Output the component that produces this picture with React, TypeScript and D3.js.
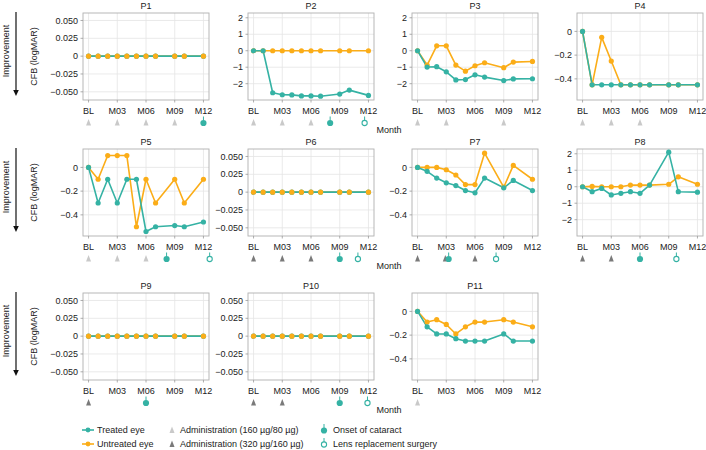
import React from 'react';
import * as d3 from 'd3';

// Visit months (BL = 0); months 8 and 11 have no visit
const months = [0, 1, 2, 3, 4, 5, 6, 7, 9, 10, 12];
const tickMonths = [0, 3, 6, 9, 12];
const tickMonthLabels = ['BL', 'M03', 'M06', 'M09', 'M12'];

const panelNames = ['P1', 'P2', 'P3', 'P4', 'P5', 'P6', 'P7', 'P8', 'P9', 'P10', 'P11'];

// CFB (logMAR), one value per visit month
const treatedP1 = [0, 0, 0, 0, 0, 0, 0, 0, 0, 0, 0];
const treatedP2 = [0, 0, -2.55, -2.67, -2.68, -2.74, -2.74, -2.76, -2.63, -2.39, -2.71];
const treatedP3 = [0, -0.99, -0.97, -1.28, -1.77, -1.75, -1.46, -1.6, -1.81, -1.71, -1.7];
const treatedP4 = [0, -0.45, -0.45, -0.45, -0.45, -0.45, -0.45, -0.45, -0.45, -0.45, -0.45];
const treatedP5 = [0, -0.3, -0.1, -0.3, -0.1, -0.1, -0.54, -0.5, -0.49, -0.5, -0.46];
const treatedP6 = [0, 0, 0, 0, 0, 0, 0, 0, 0, 0, 0];
const treatedP7 = [0, -0.033, -0.09, -0.13, -0.153, -0.195, -0.214, -0.09, -0.172, -0.11, -0.195];
const treatedP8 = [0, -0.3, -0.1, -0.5, -0.4, -0.3, -0.4, 0.1, 2.1, -0.3, -0.33];
const treatedP9 = [0, 0, 0, 0, 0, 0, 0, 0, 0, 0, 0];
const treatedP10 = [0, 0, 0, 0, 0, 0, 0, 0, 0, 0, 0];
const treatedP11 = [0, -0.13, -0.19, -0.19, -0.23, -0.25, -0.25, -0.25, -0.19, -0.25, -0.25];

const untreatedP1 = [0, 0, 0, 0, 0, 0, 0, 0, 0, 0, 0];
const untreatedP2 = [0, 0, 0, 0, 0, 0, 0, 0, 0, 0, 0];
const untreatedP3 = [0, -0.87, 0.3, 0.3, -0.87, -1.24, -0.91, -0.73, -1.03, -0.69, -0.65];
const untreatedP4 = [0, -0.45, -0.05, -0.25, -0.45, -0.45, -0.45, -0.45, -0.45, -0.45, -0.45];
const untreatedP5 = [0, -0.1, 0.1, 0.1, 0.1, -0.5, -0.1, -0.3, -0.1, -0.3, -0.1];
const untreatedP6 = [0, 0, 0, 0, 0, 0, 0, 0, 0, 0, 0];
const untreatedP7 = [0, 0, 0, -0.02, -0.064, -0.145, -0.145, 0.12, -0.167, 0.017, -0.1];
const untreatedP8 = [0, 0.02, 0, 0, 0, 0.1, 0.1, 0.1, 0.15, 0.6, 0.15];
const untreatedP9 = [0, 0, 0, 0, 0, 0, 0, 0, 0, 0, 0];
const untreatedP10 = [0, 0, 0, 0, 0, 0, 0, 0, 0, 0, 0];
const untreatedP11 = [0, -0.09, -0.07, -0.11, -0.19, -0.13, -0.09, -0.09, -0.07, -0.09, -0.13];

// Events under each panel (month positions)
const adminLow = [[0, 3, 6, 9], [0, 3, 6], [0, 3, 9], [0, 3, 6], [0, 3, 6], [], [], [], [], [], [0]];
const adminHigh = [[], [], [], [], [], [0, 3, 6], [0, 2.9, 6], [0, 3], [0], [0, 3], []];
const cataractOnset = [[12], [8], [], [], [8.15], [9], [3.25], [6], [6], [9], []];
const lensSurgery = [[], [11.6], [], [], [12.65], [10.9], [8.2], [9.8], [], [11.9], []];

// y-axis scale kinds
const zeroTicks = [0.05, 0.025, 0, -0.025, -0.05];
const wideTicks = [2, 1, 0, -1, -2];
const narrowTicks = [0, -0.2, -0.4];
const panelScaleKind = ['zero', 'wide', 'wide', 'narrow', 'narrow', 'zero', 'narrow', 'wide', 'zero', 'zero', 'narrow'];

const TEAL = '#35b2a4';
const ORANGE = '#fbad18';
const LIGHT_TRI = '#c9c9c9';
const DARK_TRI = '#7a7a7a';
const FONT = '"Liberation Sans", Arial, Helvetica, sans-serif';

const treatedAll = [treatedP1, treatedP2, treatedP3, treatedP4, treatedP5, treatedP6, treatedP7, treatedP8, treatedP9, treatedP10, treatedP11];
const untreatedAll = [untreatedP1, untreatedP2, untreatedP3, untreatedP4, untreatedP5, untreatedP6, untreatedP7, untreatedP8, untreatedP9, untreatedP10, untreatedP11];

const colX = [83, 248, 412, 577];
const rowY = [13, 149, 293];
const boxW = 126;
const boxH = 87;

const scaleSpecs: Record<string, { domain: [number, number]; ticks: number[]; fmt: (v: number) => string }> = {
  zero: { domain: [-0.0615, 0.0605], ticks: zeroTicks, fmt: v => (v === 0 ? '0' : d3.format('.3f')(v)) },
  wide: { domain: [-2.99, 2.29], ticks: wideTicks, fmt: v => d3.format('d')(v) },
  narrow: { domain: [-0.578, 0.155], ticks: narrowTicks, fmt: v => (v === 0 ? '0' : d3.format('.1f')(v)) },
};

type Pt = { m: number; v: number };

function Panel({ i }: { i: number }) {
  const left = colX[i % 4];
  const top = rowY[Math.floor(i / 4)];
  const spec = scaleSpecs[panelScaleKind[i]];
  const x = d3.scaleLinear().domain([-0.58, 12.58]).range([left, left + boxW]);
  const y = d3.scaleLinear().domain(spec.domain).range([top + boxH, top]);
  const line = d3.line<Pt>().x(d => x(d.m)).y(d => y(d.v));
  const treated: Pt[] = months.map((m, k) => ({ m, v: treatedAll[i][k] }));
  const untreated: Pt[] = months.map((m, k) => ({ m, v: untreatedAll[i][k] }));
  const flat = treatedAll[i].every(v => v === 0) && untreatedAll[i].every(v => v === 0);
  const bottom = top + boxH;
  const markY = bottom + 22.5;

  const dots = (pts: Pt[], color: string, key: string) =>
    pts.map((d, k) => <circle key={key + k} cx={x(d.m)} cy={y(d.v)} r={2.6} fill={color} />);

  const tri = (m: number, color: string, key: string) => {
    const cx = x(m);
    return <path key={key} d={`M${cx},${markY - 3.6}L${cx - 2.5},${markY + 3}L${cx + 2.5},${markY + 3}Z`} fill={color} />;
  };
  const pin = (m: number, open: boolean, key: string) => {
    const cx = x(m);
    return (
      <g key={key}>
        <line x1={cx} x2={cx} y1={markY - 6} y2={markY - 2} stroke={TEAL} strokeWidth={1} />
        <circle cx={cx} cy={markY + 0.5} r={open ? 2.6 : 3.1} fill={open ? 'white' : TEAL} stroke={TEAL} strokeWidth={open ? 1.1 : 0} />
      </g>
    );
  };

  return (
    <g>
      <text x={left + boxW / 2} y={top - 3.7} textAnchor="middle" fontSize={9} fill="#222">{panelNames[i]}</text>
      <rect x={left} y={top} width={boxW} height={boxH} fill="white" />
      {spec.ticks.map(t => (
        <line key={'gy' + t} x1={left} x2={left + boxW} y1={y(t)} y2={y(t)} stroke="#e4e4e4" strokeWidth={0.8} />
      ))}
      {tickMonths.map(t => (
        <line key={'gx' + t} x1={x(t)} x2={x(t)} y1={top} y2={bottom} stroke="#e4e4e4" strokeWidth={0.8} />
      ))}
      <rect x={left} y={top} width={boxW} height={boxH} fill="none" stroke="#b0b0b0" strokeWidth={0.9} />
      {spec.ticks.map(t => (
        <g key={'ty' + t}>
          <line x1={left - 2.5} x2={left} y1={y(t)} y2={y(t)} stroke="#999" strokeWidth={0.8} />
          <text x={left - 5} y={y(t)} dy="0.35em" textAnchor="end" fontSize={9} fill="#222">
            {spec.fmt(t).replace('-', '\u2212')}
          </text>
        </g>
      ))}
      {tickMonths.map((t, k) => (
        <g key={'tx' + t}>
          <line x1={x(t)} x2={x(t)} y1={bottom} y2={bottom + 2.5} stroke="#999" strokeWidth={0.8} />
          <text x={x(t)} y={bottom + 14} textAnchor="middle" fontSize={9} fill="#222">{tickMonthLabels[k]}</text>
        </g>
      ))}
      <path d={line(untreated) || ''} fill="none" stroke={ORANGE} strokeWidth={1.6} strokeLinejoin="round" />
      <path d={line(treated) || ''} fill="none" stroke={TEAL} strokeWidth={1.6} strokeLinejoin="round" />
      {flat ? dots(treated, TEAL, 't') : dots(untreated, ORANGE, 'u')}
      {flat ? dots(untreated, ORANGE, 'u') : dots(treated, TEAL, 't')}
      {adminLow[i].map((m, k) => tri(m, LIGHT_TRI, 'al' + k))}
      {adminHigh[i].map((m, k) => tri(m, DARK_TRI, 'ah' + k))}
      {cataractOnset[i].map((m, k) => pin(m, false, 'co' + k))}
      {lensSurgery[i].map((m, k) => pin(m, true, 'ls' + k))}
    </g>
  );
}

function RowLabels({ top }: { top: number }) {
  const ax = 16;
  const y0 = top - 1;
  const y1 = top + 83;
  return (
    <g>
      <text transform={`translate(8.5,${top + 38}) rotate(-90)`} textAnchor="middle" fontSize={9} fill="#222">Improvement</text>
      <line x1={ax} x2={ax} y1={y0} y2={y1 - 5} stroke="#111" strokeWidth={1.2} />
      <path d={`M${ax - 2.8},${y1 - 6}L${ax + 2.8},${y1 - 6}L${ax},${y1}Z`} fill="#111" />
      <text transform={`translate(36.5,${top + boxH / 2}) rotate(-90)`} textAnchor="middle" fontSize={9} fill="#222">CFB (logMAR)</text>
    </g>
  );
}

function Legend() {
  const r1 = 430;
  const r2 = 444;
  const tri = (cx: number, cy: number, color: string) => (
    <path d={`M${cx},${cy - 3.6}L${cx - 2.5},${cy + 3}L${cx + 2.5},${cy + 3}Z`} fill={color} />
  );
  const pin = (cx: number, cy: number, open: boolean) => (
    <g>
      <line x1={cx} x2={cx} y1={cy - 6} y2={cy - 2} stroke={TEAL} strokeWidth={1} />
      <circle cx={cx} cy={cy + 0.5} r={open ? 2.6 : 3.1} fill={open ? 'white' : TEAL} stroke={TEAL} strokeWidth={open ? 1.1 : 0} />
    </g>
  );
  const label = (tx: number, ty: number, s: string) => (
    <text x={tx} y={ty} dy="0.35em" fontSize={9} fill="#222">{s}</text>
  );
  return (
    <g>
      <line x1={82} x2={94} y1={r1} y2={r1} stroke={TEAL} strokeWidth={1.6} />
      <circle cx={88} cy={r1} r={2.4} fill={TEAL} />
      {label(97, r1, 'Treated eye')}
      <line x1={82} x2={94} y1={r2} y2={r2} stroke={ORANGE} strokeWidth={1.6} />
      <circle cx={88} cy={r2} r={2.4} fill={ORANGE} />
      {label(97, r2, 'Untreated eye')}
      {tri(172, r1, LIGHT_TRI)}
      {label(180, r1, 'Administration (160 µg/80 µg)')}
      {tri(172, r2, DARK_TRI)}
      {label(180, r2, 'Administration (320 µg/160 µg)')}
      {pin(324, r1, false)}
      {label(333, r1, 'Onset of cataract')}
      {pin(324, r2, true)}
      {label(333, r2, 'Lens replacement surgery')}
    </g>
  );
}

export default function App() {
  return (
    <svg width={706} height={450} style={{ position: 'absolute', left: 0, top: 0, background: 'white' }} fontFamily={FONT}>
      {rowY.map(t => <RowLabels key={t} top={t} />)}
      {panelNames.map((_, i) => <Panel key={i} i={i} />)}
      {rowY.map(t => (
        <text key={'m' + t} x={389} y={t + boxH + 33} textAnchor="middle" fontSize={9} fill="#222">Month</text>
      ))}
      <Legend />
    </svg>
  );
}
